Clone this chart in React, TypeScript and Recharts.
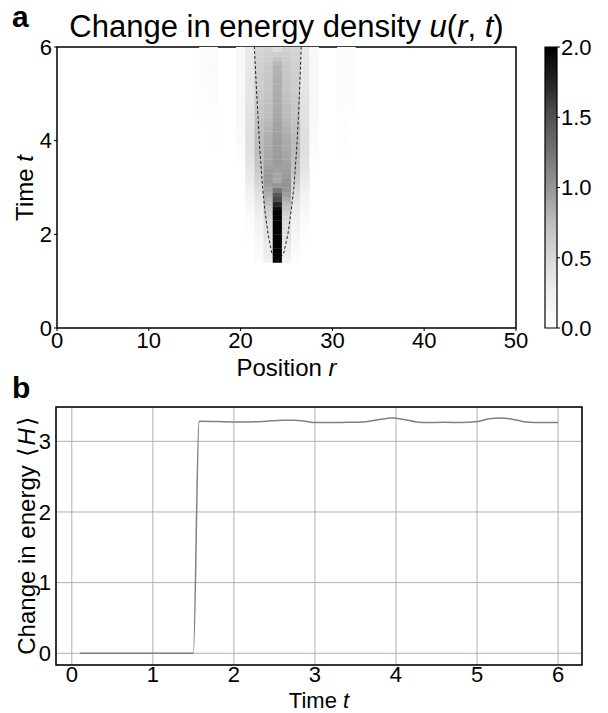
import React from "react";
import {
  Bar,
  CartesianGrid,
  ComposedChart,
  Line,
  ReferenceArea,
  Scatter,
  XAxis,
  YAxis,
} from "recharts";

const FONT = '"Liberation Sans", Arial, Helvetica, sans-serif';

// panel a: heatmap rows (cell centres in t) and per-column values of u(r, t)
const T_ROWS = [
  1.45, 1.55, 1.65, 1.75, 1.85, 1.95, 2.05, 2.15, 2.25, 2.35, 2.45, 2.55,
  2.65, 2.75, 2.85, 2.95, 3.05, 3.15, 3.25, 3.35, 3.45, 3.55, 3.65, 3.75,
  3.85, 3.95, 4.05, 4.15, 4.25, 4.35, 4.45, 4.55, 4.65, 4.75, 4.85, 4.95,
  5.05, 5.15, 5.25, 5.35, 5.45, 5.55, 5.65, 5.75, 5.85, 5.95,
];

const U_R16 = [
  0, 0, 0, 0, 0, 0, 0, 0, 0, 0, 0, 0, 0, 0, 0, 0, 0, 0, 0, 0, 0, 0, 0, 0, 0,
  0, 0, 0, 0, 0, 0.03, 0.03, 0.04, 0.04, 0.04, 0.04, 0.04, 0.04, 0.05, 0.05,
  0.05, 0.06, 0.06, 0.06, 0.06, 0.05,
];
const U_R17 = [
  0, 0, 0, 0, 0, 0, 0, 0, 0, 0, 0, 0, 0, 0, 0, 0, 0, 0, 0, 0, 0, 0, 0, 0,
  0.03, 0.03, 0.04, 0.04, 0.04, 0.04, 0.04, 0.03, 0.03, 0.04, 0.05, 0.05,
  0.06, 0.06, 0.07, 0.07, 0.08, 0.08, 0.08, 0.08, 0.07, 0.07,
];
const U_R20 = [
  0, 0, 0, 0, 0, 0, 0, 0, 0, 0, 0, 0, 0, 0, 0, 0, 0, 0, 0, 0, 0.03, 0.04,
  0.05, 0.06, 0.07, 0.08, 0.08, 0.09, 0.09, 0.1, 0.1, 0.1, 0.11, 0.11, 0.11,
  0.12, 0.12, 0.12, 0.12, 0.12, 0.12, 0.12, 0.11, 0.11, 0.11, 0.1,
];
const U_R21 = [
  0, 0, 0, 0.01, 0.01, 0.02, 0.03, 0.04, 0.05, 0.07, 0.09, 0.12, 0.15, 0.18,
  0.21, 0.24, 0.27, 0.3, 0.33, 0.35, 0.37, 0.39, 0.4, 0.41, 0.42, 0.43, 0.43,
  0.42, 0.42, 0.41, 0.4, 0.4, 0.39, 0.39, 0.38, 0.38, 0.37, 0.37, 0.36, 0.36,
  0.36, 0.35, 0.35, 0.34, 0.34, 0.33,
];
const U_R22 = [
  0.05, 0.07, 0.09, 0.1, 0.12, 0.14, 0.16, 0.18, 0.2, 0.23, 0.26, 0.3, 0.34,
  0.38, 0.42, 0.47, 0.52, 0.56, 0.6, 0.64, 0.67, 0.7, 0.72, 0.73, 0.74, 0.75,
  0.75, 0.74, 0.73, 0.72, 0.7, 0.68, 0.66, 0.65, 0.64, 0.63, 0.62, 0.61, 0.6,
  0.6, 0.59, 0.58, 0.57, 0.56, 0.55, 0.52,
];
const U_R23 = [
  0.25, 0.28, 0.3, 0.32, 0.35, 0.38, 0.4, 0.42, 0.45, 0.5, 0.55, 0.62, 0.7,
  0.78, 0.85, 0.9, 0.95, 0.98, 0.98, 0.96, 0.93, 0.9, 0.88, 0.87, 0.86, 0.85,
  0.84, 0.82, 0.8, 0.78, 0.76, 0.74, 0.73, 0.72, 0.71, 0.7, 0.69, 0.68, 0.67,
  0.66, 0.65, 0.64, 0.62, 0.6, 0.58, 0.55,
];
const U_R24 = [
  2.6, 2.5, 2.4, 2.35, 2.3, 2.3, 2.25, 2.2, 2.15, 2.1, 2.05, 1.9, 1.75, 1.55,
  1.45, 1.22, 1.0, 0.88, 0.9, 0.92, 0.95, 0.98, 0.97, 0.95, 0.95, 0.96, 0.95,
  0.93, 0.92, 0.92, 0.9, 0.88, 0.87, 0.86, 0.86, 0.86, 0.85, 0.85, 0.84, 0.84,
  0.83, 0.82, 0.78, 0.7, 0.6, 0.45,
];
const U_R25 = [
  0.22, 0.26, 0.3, 0.33, 0.36, 0.4, 0.42, 0.45, 0.48, 0.52, 0.58, 0.66, 0.75,
  0.85, 0.95, 1.0, 1.02, 1.0, 0.98, 0.95, 0.93, 0.92, 0.9, 0.9, 0.88, 0.87,
  0.85, 0.84, 0.82, 0.8, 0.78, 0.76, 0.75, 0.74, 0.72, 0.71, 0.7, 0.69, 0.68,
  0.67, 0.66, 0.65, 0.63, 0.62, 0.6, 0.57,
];
const U_R26 = [
  0.05, 0.07, 0.09, 0.11, 0.13, 0.15, 0.17, 0.19, 0.22, 0.25, 0.28, 0.32, 0.36,
  0.4, 0.45, 0.5, 0.55, 0.6, 0.64, 0.68, 0.7, 0.72, 0.74, 0.75, 0.76, 0.76,
  0.75, 0.74, 0.73, 0.71, 0.69, 0.67, 0.66, 0.65, 0.64, 0.63, 0.62, 0.61, 0.6,
  0.6, 0.59, 0.58, 0.57, 0.56, 0.55, 0.53,
];
const U_R27 = [
  0, 0, 0, 0.01, 0.01, 0.02, 0.03, 0.04, 0.06, 0.08, 0.1, 0.13, 0.16, 0.19,
  0.22, 0.25, 0.28, 0.31, 0.34, 0.36, 0.38, 0.4, 0.41, 0.42, 0.43, 0.44, 0.44,
  0.43, 0.43, 0.42, 0.41, 0.41, 0.4, 0.4, 0.39, 0.39, 0.38, 0.38, 0.37, 0.37,
  0.37, 0.36, 0.36, 0.35, 0.35, 0.34,
];
const U_R28 = [
  0, 0, 0, 0, 0, 0, 0, 0, 0, 0, 0, 0, 0, 0, 0, 0, 0, 0, 0, 0, 0.03, 0.04,
  0.05, 0.06, 0.07, 0.08, 0.09, 0.09, 0.1, 0.1, 0.1, 0.11, 0.11, 0.11, 0.12,
  0.12, 0.12, 0.12, 0.12, 0.12, 0.12, 0.11, 0.11, 0.11, 0.1, 0.1,
];
const U_R31 = [
  0, 0, 0, 0, 0, 0, 0, 0, 0, 0, 0, 0, 0, 0, 0, 0, 0, 0, 0, 0, 0, 0, 0.03,
  0.03, 0.04, 0.04, 0.04, 0.04, 0.04, 0.04, 0.04, 0.04, 0.05, 0.05, 0.05, 0.05,
  0.05, 0.05, 0.05, 0.05, 0.05, 0.05, 0.05, 0.05, 0.05, 0.05,
];
const U_R32 = [
  0, 0, 0, 0, 0, 0, 0, 0, 0, 0, 0, 0, 0, 0, 0, 0, 0, 0, 0, 0, 0, 0, 0, 0, 0,
  0, 0, 0, 0, 0, 0, 0.03, 0.03, 0.04, 0.04, 0.05, 0.05, 0.05, 0.06, 0.06, 0.06,
  0.06, 0.06, 0.06, 0.05, 0.05,
];

const HEAT_COLUMNS: [number, number[]][] = [
  [16, U_R16],
  [17, U_R17],
  [20, U_R20],
  [21, U_R21],
  [22, U_R22],
  [23, U_R23],
  [24, U_R24],
  [25, U_R25],
  [26, U_R26],
  [27, U_R27],
  [28, U_R28],
  [31, U_R31],
  [32, U_R32],
];

// dashed light-cone curves
const CONE_T = [1.42, 1.6, 2.0, 2.5, 3.0, 3.8, 4.5, 5.2, 6.0];
const CONE_LEFT_R = [24.0, 23.4, 23.0, 22.65, 22.4, 22.1, 21.9, 21.7, 21.5];
const CONE_RIGHT_R = [24.0, 24.7, 25.15, 25.5, 25.8, 26.1, 26.3, 26.45, 26.6];

const R_TICKS = [0, 10, 20, 30, 40, 50];
const T_TICKS_A = [0, 2, 4, 6];

// colour bar: scale of u from 0 to 2
const CB_RANGE = [{ name: "u", top: 2 }];
const CB_TICKS = [0, 0.5, 1, 1.5, 2];

// panel b: change in energy <H> over time
const T_H = [
  0.1, 0.5, 1.0, 1.5, 1.57, 1.6, 1.8, 2.0, 2.2, 2.4, 2.6, 2.75, 2.9, 3.0, 3.2,
  3.4, 3.6, 3.8, 3.95, 4.1, 4.25, 4.4, 4.6, 4.8, 5.0, 5.15, 5.3, 5.45, 5.6,
  5.8, 6.0,
];
const H_VALS = [
  0, 0, 0, 0, 3.28, 3.285, 3.28, 3.275, 3.275, 3.285, 3.3, 3.3, 3.28, 3.265,
  3.265, 3.27, 3.275, 3.31, 3.33, 3.31, 3.275, 3.265, 3.27, 3.265, 3.28, 3.32,
  3.33, 3.31, 3.275, 3.265, 3.265,
];
const T_TICKS_B = [0, 1, 2, 3, 4, 5, 6];
const H_TICKS = [0, 1, 2, 3];

// matplotlib "Greys" colour stops
const GREYS: [number, number][] = [
  [0, 255],
  [0.125, 240],
  [0.25, 217],
  [0.375, 189],
  [0.5, 150],
  [0.625, 115],
  [0.75, 82],
  [0.875, 37],
  [1, 0],
];

const greyAt = (f: number) => {
  const x = Math.max(0, Math.min(1, f));
  for (let i = 1; i < GREYS.length; i++) {
    const [f0, g0] = GREYS[i - 1];
    const [f1, g1] = GREYS[i];
    if (x <= f1) {
      const g = Math.round(g0 + ((x - f0) / (f1 - f0)) * (g1 - g0));
      return `rgb(${g},${g},${g})`;
    }
  }
  return "rgb(0,0,0)";
};

const heatData = HEAT_COLUMNS.flatMap(([r, col]) =>
  col.map((v, i) => ({ r, t: T_ROWS[i], v }))
).filter((d) => d.v > 0.005);

const coneLeft = CONE_T.map((t, i) => ({ r: CONE_LEFT_R[i], t }));
const coneRight = CONE_T.map((t, i) => ({ r: CONE_RIGHT_R[i], t }));
const energyData = T_H.map((t, i) => ({ t, h: H_VALS[i] }));

// plot box of panel a: 459 x 281 px for r 0..50, t 0..6
const CELL_W = 459 / 50;
const CELL_H = (281 / 6) * 0.1;

const HeatCell = (props: any) => {
  const { cx, cy, payload } = props;
  if (cx == null || cy == null) return <g />;
  return (
    <rect
      x={cx - CELL_W / 2}
      y={cy - CELL_H / 2}
      width={CELL_W + 0.3}
      height={CELL_H + 0.3}
      fill={greyAt(payload.v / 2)}
    />
  );
};

const NoDot = () => <g />;

const tickStyle = { fill: "#000", fontSize: 22, fontFamily: FONT };

const App = () => {
  return (
    <div
      style={{
        position: "absolute",
        left: 0,
        top: 0,
        width: 608,
        height: 713,
        background: "#fff",
        fontFamily: FONT,
      }}
    >
      <div style={{ position: "absolute", left: 0, top: 0 }}>
        <ComposedChart
          width={608}
          height={400}
          margin={{ top: 47, right: 92, bottom: 12, left: 17 }}
        >
          <XAxis
            type="number"
            dataKey="r"
            domain={[0, 50]}
            ticks={R_TICKS}
            allowDataOverflow
            height={60}
            axisLine={false}
            tickLine={{ stroke: "#000" }}
            tickSize={3}
            tickMargin={1}
            tick={tickStyle}
          />
          <YAxis
            type="number"
            dataKey="t"
            domain={[0, 6]}
            ticks={T_TICKS_A}
            allowDataOverflow
            width={40}
            axisLine={false}
            tickLine={{ stroke: "#000" }}
            tickSize={3}
            tickMargin={2}
            tick={tickStyle}
          />
          <Scatter
            data={heatData}
            dataKey="t"
            shape={HeatCell}
            isAnimationActive={false}
          />
          <Scatter
            data={coneLeft}
            dataKey="t"
            shape={NoDot}
            line={{ stroke: "#222", strokeWidth: 1, strokeDasharray: "3 2" }}
            lineType="joint"
            isAnimationActive={false}
          />
          <Scatter
            data={coneRight}
            dataKey="t"
            shape={NoDot}
            line={{ stroke: "#222", strokeWidth: 1, strokeDasharray: "3 2" }}
            lineType="joint"
            isAnimationActive={false}
          />
          <ReferenceArea
            x1={0}
            x2={50}
            y1={0}
            y2={6}
            fill="none"
            fillOpacity={0}
            stroke="#000"
            strokeWidth={1.5}
            ifOverflow="visible"
          />
        </ComposedChart>
      </div>

      <div style={{ position: "absolute", left: 0, top: 0 }}>
        <ComposedChart
          width={608}
          height={400}
          data={CB_RANGE}
          barCategoryGap={0}
          margin={{ top: 47, right: 11, bottom: 72, left: 545 }}
        >
          <defs>
            <linearGradient id="greysBar" x1="0" y1="0" x2="0" y2="1">
              {[...GREYS].reverse().map(([f]) => (
                <stop key={f} offset={1 - f} stopColor={greyAt(f)} />
              ))}
            </linearGradient>
          </defs>
          <XAxis type="category" dataKey="name" hide />
          <YAxis
            type="number"
            orientation="right"
            domain={[0, 2]}
            ticks={CB_TICKS}
            tickFormatter={(v: number) => v.toFixed(1)}
            width={40}
            axisLine={false}
            tickLine={{ stroke: "#000" }}
            tickSize={3}
            tickMargin={1}
            tick={tickStyle}
          />
          <Bar
            dataKey="top"
            fill="url(#greysBar)"
            stroke="#000"
            strokeWidth={1.2}
            isAnimationActive={false}
          />
        </ComposedChart>
      </div>

      <div style={{ position: "absolute", left: 0, top: 380 }}>
        <ComposedChart
          width={608}
          height={333}
          margin={{ top: 27, right: 26, bottom: 0, left: 16 }}
        >
          <CartesianGrid stroke="#b0b0b0" strokeWidth={1} />
          <XAxis
            type="number"
            dataKey="t"
            domain={[-0.195, 6.295]}
            ticks={T_TICKS_B}
            allowDataOverflow
            height={48}
            axisLine={false}
            tickLine={false}
            tickSize={0}
            tickMargin={1}
            tick={tickStyle}
          />
          <YAxis
            type="number"
            domain={[-0.166, 3.486]}
            ticks={H_TICKS}
            allowDataOverflow
            width={40}
            axisLine={false}
            tickLine={false}
            tickSize={3}
            tickMargin={2}
            tick={tickStyle}
          />
          <Line
            data={energyData}
            dataKey="h"
            type="monotone"
            stroke="#808080"
            strokeWidth={1.5}
            dot={false}
            isAnimationActive={false}
          />
          <ReferenceArea
            x1={-0.195}
            x2={6.295}
            y1={-0.166}
            y2={3.486}
            fill="none"
            fillOpacity={0}
            stroke="#000"
            strokeWidth={1.5}
            ifOverflow="visible"
          />
        </ComposedChart>
      </div>

      <svg
        width={608}
        height={713}
        style={{ position: "absolute", left: 0, top: 0, pointerEvents: "none" }}
        fontFamily={FONT}
      >
        <text x={12} y={27} fontSize={30} fontWeight="bold">
          a
        </text>
        <text x={286.5} y={37} fontSize={31} textAnchor="middle">
          Change in energy density{" "}
          <tspan fontStyle="italic">u</tspan>(<tspan fontStyle="italic">r</tspan>,{" "}
          <tspan fontStyle="italic">t</tspan>)
        </text>
        <text
          x={33}
          y={188}
          fontSize={24}
          textAnchor="middle"
          transform="rotate(-90 33 188)"
        >
          Time <tspan fontStyle="italic">t</tspan>
        </text>
        <text x={286.5} y={376} fontSize={24} textAnchor="middle">
          Position <tspan fontStyle="italic">r</tspan>
        </text>
        <text x={12} y={398} fontSize={30} fontWeight="bold">
          b
        </text>
        <text
          x={35}
          y={536}
          fontSize={24}
          textAnchor="middle"
          transform="rotate(-90 35 536)"
        >
          Change in energy{" "}
          <tspan dx={2}>⟨</tspan>
          <tspan fontStyle="italic" dx={2}>
            H
          </tspan>
          <tspan dx={2}>⟩</tspan>
        </text>
        <text x={319} y={708} fontSize={22} textAnchor="middle">
          Time <tspan fontStyle="italic">t</tspan>
        </text>
      </svg>
    </div>
  );
};

export default App;
